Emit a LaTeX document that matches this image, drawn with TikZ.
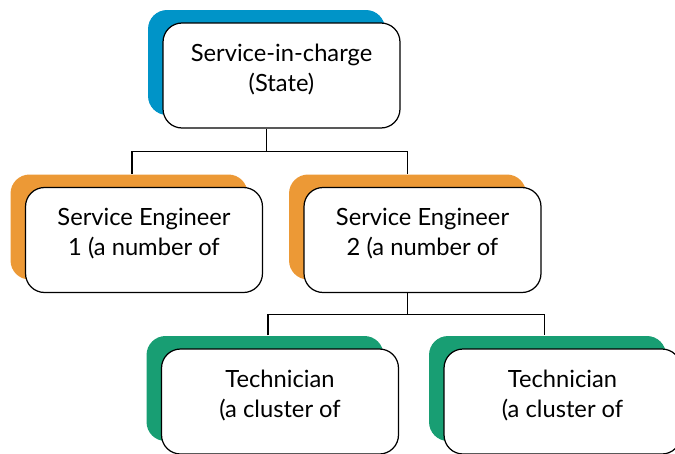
\documentclass[tikz,border=0pt]{standalone}
\usepackage{fontspec}
\setmainfont{Lato}
\usetikzlibrary{shadows}
\definecolor{stateblue}{RGB}{0,148,200}
\definecolor{engorange}{RGB}{236,153,54}
\definecolor{techgreen}{RGB}{24,158,115}
\tikzset{
  post/.style={draw, line width=0.7pt, fill=white, rounded corners=0.38cm,
    minimum width=4.74cm, minimum height=2.1cm, align=center,
    font=\fontsize{13.5pt}{17pt}\selectfont,
    execute at end node=\rule[-0.32cm]{0pt}{0pt},
    general shadow={fill=#1, shadow xshift=-0.3cm, shadow yshift=0.26cm}},
  link/.style={line width=0.6pt}
}
\begin{document}
\begin{tikzpicture}[x=0.02cm,y=-0.02cm]
  \clip (0,0) rectangle (675,453);
      \draw (281.5,75.5) node[post=stateblue] (sic) {Service-in-charge\\(State)};
  \draw (144,240) node[post=engorange] (eng1) {Service Engineer\\1 (a number of};
      \draw (422.5,240) node[post=engorange] (eng2) {Service Engineer\\2 (a number of};
  \draw (280,401.5) node[post=techgreen] (tech1) {Technician\\(a cluster of};
      \draw (562.5,401.5) node[post=techgreen] (tech2) {Technician\\(a cluster of};

      \path ([xshift=-0.3cm]sic.south) coordinate (sicout) ++(0,23) coordinate (hubA);
      \path ([xshift=-0.3cm]eng2.south) coordinate (engout) ++(0,21) coordinate (hubB);
  \path ([xshift=-0.24cm,yshift=0.26cm]eng1.north) coordinate (eng1in);
  \path ([xshift=-0.3cm,yshift=0.26cm]eng2.north) coordinate (eng2in);
  \path ([xshift=-0.24cm,yshift=0.26cm]tech1.north) coordinate (tech1in);
  \path ([xshift=-0.36cm,yshift=0.26cm]tech2.north) coordinate (tech2in);

      \draw[link] (sicout) -- (hubA);
      \draw[link] (eng1in) |- (hubA) -| (eng2in);
      \draw[link] (engout) -- (hubB);
      \draw[link] (tech1in) |- (hubB) -| (tech2in);
\end{tikzpicture}
\end{document}
